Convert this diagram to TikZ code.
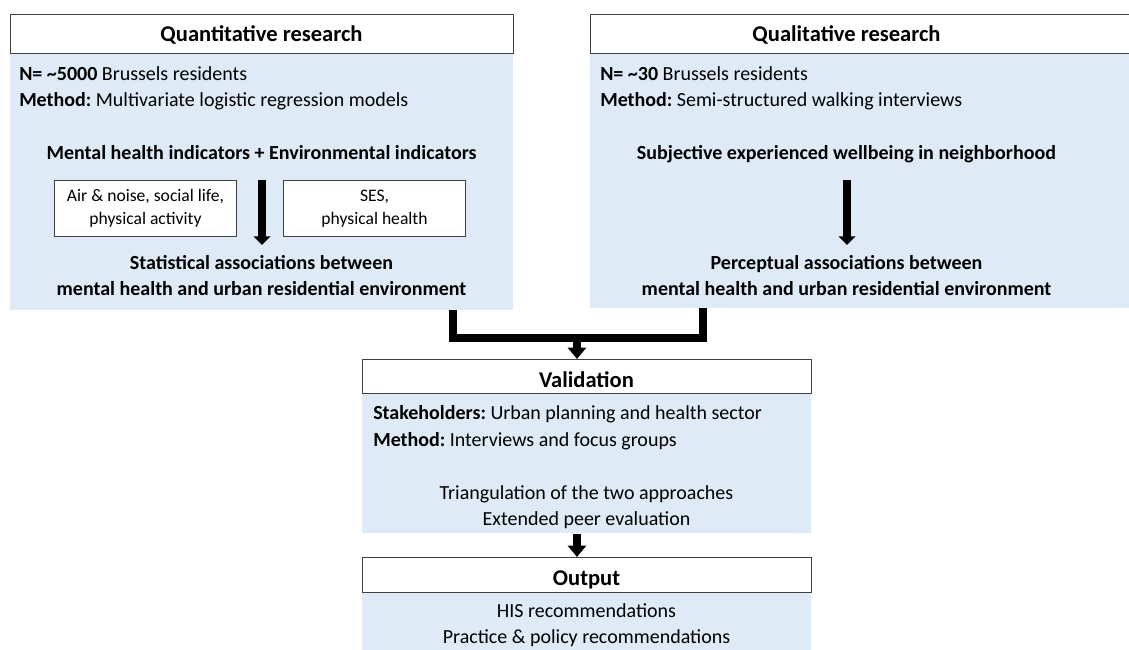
\documentclass[tikz,border=0pt]{standalone}
\usepackage{fontspec}
\setmainfont{Carlito}
\usetikzlibrary{arrows.meta}
\definecolor{panelblue}{HTML}{DEEBF7}
\definecolor{framegray}{HTML}{404040}
\frenchspacing
\begin{document}
\begin{tikzpicture}[x=0.75pt,y=-0.75pt,
  panel/.style={fill=panelblue, draw=none, anchor=north west, inner sep=0pt},
  hdr/.style={draw=framegray, line width=0.8pt, fill=white, anchor=north west, inner sep=0pt},
  hdrtxt/.style={anchor=base, inner sep=0pt, font=\fontsize{16.9}{20}\selectfont\bfseries},
  smallbox/.style={draw=framegray, line width=0.8pt, fill=white, anchor=north west, inner sep=0pt,
              minimum width=136.5pt, minimum height=42pt, align=center,
              font=\fontsize{13.2}{17.25}\selectfont},
  txt/.style={anchor=base, inner sep=0pt, font=\fontsize{15}{18}\selectfont},
  ltxt/.style={txt, anchor=base west},
  btxt/.style={txt, font=\fontsize{15}{18}\selectfont\bfseries},
  bar/.style={line width=6pt, line join=miter},
  arrsm/.style={line width=5.6pt, -{Triangle[width=12.5pt,length=6.5pt]}},
  arrbig/.style={line width=6pt, -{Triangle[width=13.5pt,length=8.5pt]}}
]
\useasboundingbox (0,0) rectangle (1129,650);
\clip (0,0) rectangle (1129,650);

% panel bodies
\node[panel, minimum width=377.25pt, minimum height=192.75pt] (qbody) at (10,53) {};
\node[panel, minimum width=412.5pt, minimum height=191.25pt] (lbody) at (590,53) {};
\node[panel, minimum width=336.75pt, minimum height=105pt] (vbody) at (362,393) {};
\node[panel, minimum width=336.75pt, minimum height=51pt] (obody) at (362,592) {};

% headers
\node[hdr, minimum width=377.25pt, minimum height=29.25pt] (qhead) at (10,14) {};
\node[hdrtxt] (qheadtxt) at (261.5,41) {Quantitative research};
\node[hdr, minimum width=412.5pt, minimum height=29.25pt] (lhead) at (590,14) {};
\node[hdrtxt] (lheadtxt) at (846.5,41) {Qualitative research};
\node[hdr, minimum width=336.75pt, minimum height=25.5pt] (vhead) at (362,359) {};
\node[hdrtxt] (vheadtxt) at (586.5,387) {Validation};
\node[hdr, minimum width=336.75pt, minimum height=26.25pt] (ohead) at (362,557) {};
\node[hdrtxt] (oheadtxt) at (586.5,585) {Output};

% quantitative panel
\node[ltxt] (qn) at (19,80) {\textbf{N= \char`~5000} Brussels residents};
\node[ltxt] (qm) at (19,106) {\textbf{Method:} Multivariate logistic regression models};
\node[btxt] (qind) at (261.5,159) {Mental health indicators + Environmental indicators};
\node[smallbox] (qsa) at (54,180) {Air \& noise, social life,\\physical activity};
\node[smallbox] (qsb) at (283,180) {SES,\\physical health};
\node[btxt] (qs1) at (261.5,269) {Statistical associations between};
\node[btxt] (qs2) at (261.5,295) {mental health and urban residential environment};
\coordinate (qa1) at (262,180);
\coordinate (qa2) at (262,245);
\draw[arrsm] (qa1) -- (qa2);

% qualitative panel
\node[ltxt] (ln) at (600,80) {\textbf{N= \char`~30} Brussels residents};
\node[ltxt] (lm) at (600,106) {\textbf{Method:} Semi-structured walking interviews};
\node[btxt] (lsub) at (846.5,159) {Subjective experienced wellbeing in neighborhood};
\node[btxt] (lp1) at (846.5,269) {Perceptual associations between};
\node[btxt] (lp2) at (846.5,295) {mental health and urban residential environment};
\coordinate (la1) at (847,180);
\coordinate (la2) at (847,245);
\draw[arrsm] (la1) -- (la2);

% joining connector
\coordinate (ql) at (452.5,310);
\coordinate (qr) at (702.5,308);
\coordinate (jc) at (577,337.5);
\draw[bar] (ql) |- (jc) -| (qr);
\draw[arrbig] (jc) -- (jc |- vhead.north);

% validation
\node[ltxt] (vs) at (373,419) {\textbf{Stakeholders:} Urban planning and health sector};
\node[ltxt] (vm) at (373,446) {\textbf{Method:} Interviews and focus groups};
\node[txt] (vt) at (586.5,499) {Triangulation of the two approaches};
\node[txt] (ve) at (586.5,525) {Extended peer evaluation};
\draw[arrbig] (jc |- vbody.south) -- (jc |- ohead.north);

% output
\node[txt] (oh) at (586.5,617) {HIS recommendations};
\node[txt] (op) at (586.5,643) {Practice \& policy recommendations};
\end{tikzpicture}
\end{document}
